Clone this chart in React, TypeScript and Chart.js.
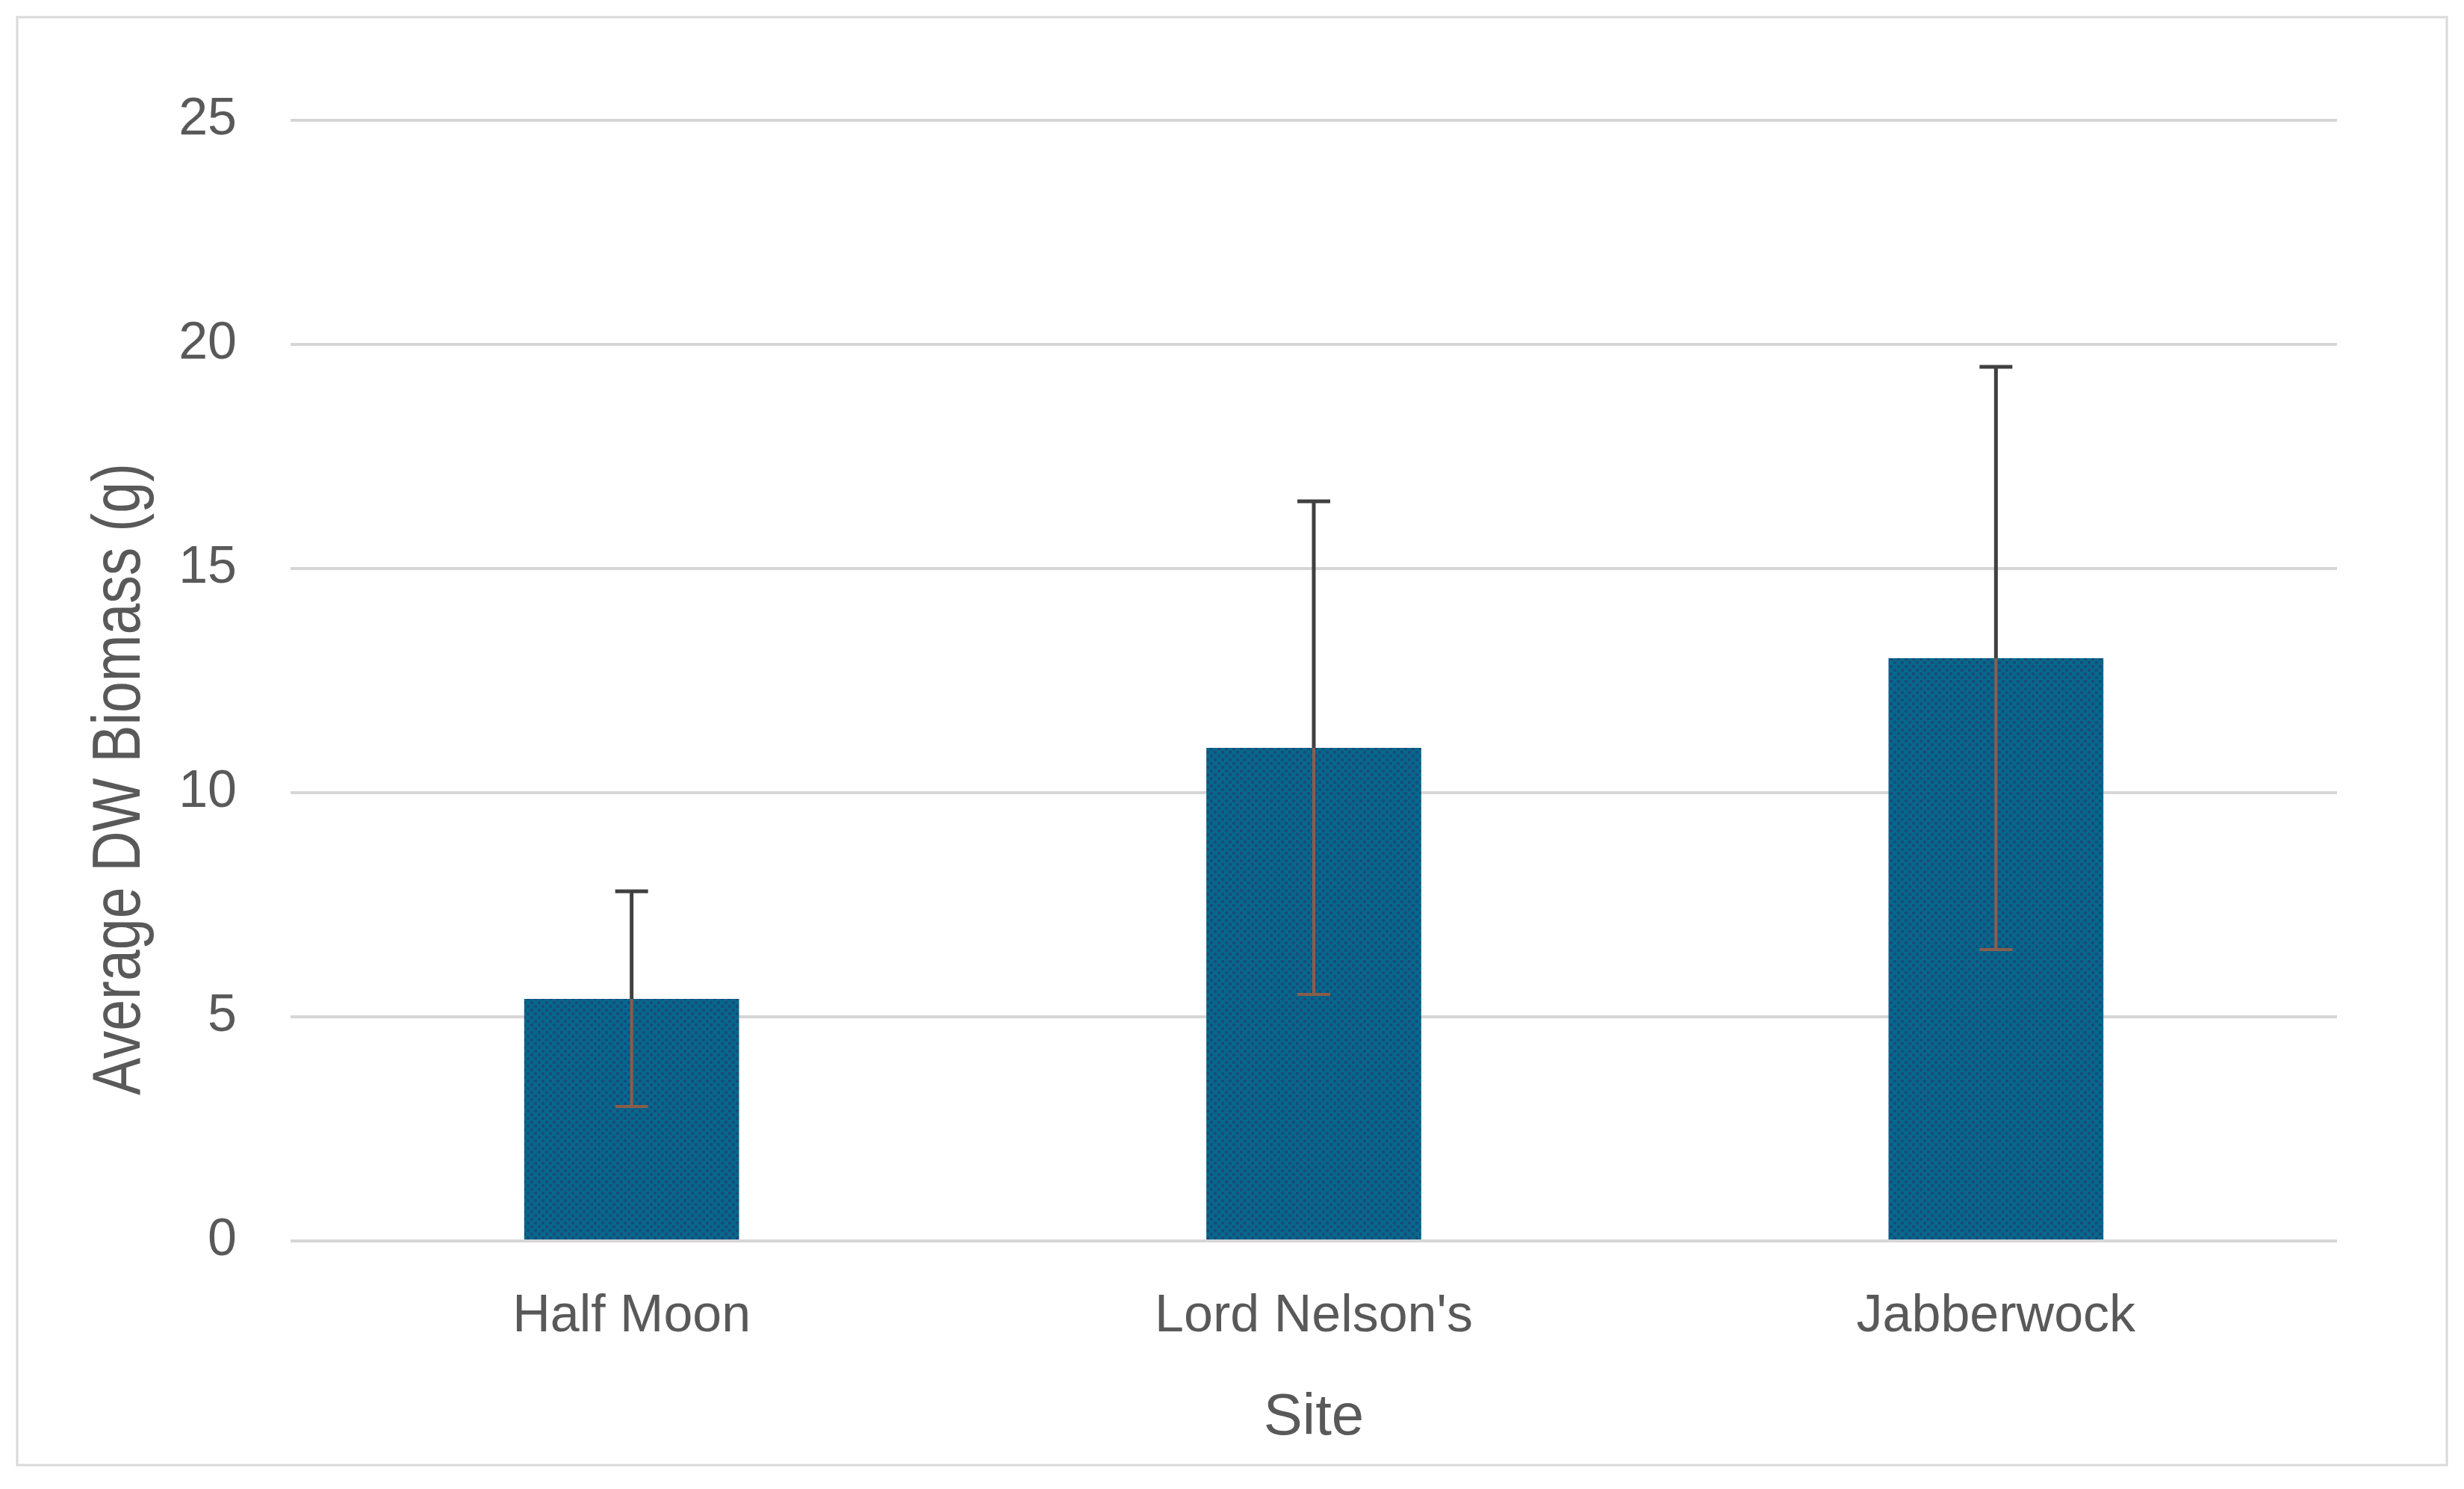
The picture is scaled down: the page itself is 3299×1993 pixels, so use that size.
import React, { useEffect, useRef } from "react";
import { Chart, registerables } from "chart.js";

Chart.register(...registerables);

// ---- data ----
const sites = ["Half Moon", "Lord Nelson's", "Jabberwock"];
const meanBiomass = [5.4, 11.0, 13.0];
const errorPlus = [2.4, 5.5, 6.5];
const errorMinus = [2.4, 5.5, 6.5];
const yTickValues = [0, 5, 10, 15, 20, 25];
const xAxisTitle = "Site";
const yAxisTitle = "Average DW Biomass (g)";

const W = 3299;
const H = 1993;
const TEXT = "#595959";
const FONT = "'Liberation Sans', Arial, sans-serif";

function makePattern(): CanvasPattern | string {
  const c = document.createElement("canvas");
  c.width = 10;
  c.height = 10;
  const g = c.getContext("2d");
  if (!g) return "#0d6085";
  g.fillStyle = "#06688a";
  g.fillRect(0, 0, 10, 10);
  g.fillStyle = "#184c7e";
  g.fillRect(0, 0, 4, 4);
  g.fillRect(5, 5, 4, 4);
  const p = g.createPattern(c, "repeat");
  return p || "#0d6085";
}

const framePlugin = {
  id: "frame",
  beforeDraw(chart: any) {
    const ctx = chart.ctx;
    ctx.save();
    ctx.fillStyle = "#ffffff";
    ctx.fillRect(0, 0, chart.width, chart.height);
    ctx.strokeStyle = "#d9d9d9";
    ctx.lineWidth = 3;
    ctx.strokeRect(23, 23, 3253, 1938);
    ctx.restore();
  },
};

const errorBarPlugin = {
  id: "errorBars",
  afterDatasetsDraw(chart: any) {
    const ctx = chart.ctx;
    const meta = chart.getDatasetMeta(0);
    const ys = chart.scales.y;
    ctx.save();
    meta.data.forEach((bar: any, i: number) => {
      const x = bar.x;
      const yTop = ys.getPixelForValue(meanBiomass[i] + errorPlus[i]);
      const yBot = ys.getPixelForValue(meanBiomass[i] - errorMinus[i]);
      const yBar = ys.getPixelForValue(meanBiomass[i]);
      const cap = 22;
      ctx.lineWidth = 5;
      // upper part (above bar)
      ctx.strokeStyle = "#404040";
      ctx.beginPath();
      ctx.moveTo(x, yTop);
      ctx.lineTo(x, yBar);
      ctx.moveTo(x - cap, yTop);
      ctx.lineTo(x + cap, yTop);
      ctx.stroke();
      // lower part (over bar)
      ctx.strokeStyle = "#8a5e4a";
      ctx.lineWidth = 4;
      ctx.beginPath();
      ctx.moveTo(x, yBar);
      ctx.lineTo(x, yBot);
      ctx.moveTo(x - cap, yBot);
      ctx.lineTo(x + cap, yBot);
      ctx.stroke();
    });
    ctx.restore();
  },
};

const titlesPlugin = {
  id: "axisTitles",
  afterDraw(chart: any) {
    const ctx = chart.ctx;
    const area = chart.chartArea;
    ctx.save();
    ctx.fillStyle = TEXT;
    // x title
    ctx.font = `78px ${FONT}`;
    ctx.textAlign = "center";
    ctx.textBaseline = "alphabetic";
    ctx.fillText(xAxisTitle, (area.left + area.right) / 2, 1920);
    // y title (narrow)
    ctx.translate(187, 1043);
    ctx.rotate(-Math.PI / 2);
    ctx.font = `90px ${FONT}`;
    const w = ctx.measureText(yAxisTitle).width;
    const sx = 846 / w;
    ctx.scale(sx, 1);
    ctx.textAlign = "center";
    ctx.textBaseline = "alphabetic";
    ctx.fillText(yAxisTitle, 0, 0);
    ctx.restore();
  },
};

export default function App() {
  const ref = useRef<HTMLCanvasElement | null>(null);

  useEffect(() => {
    if (!ref.current) return;
    const chart = new Chart(ref.current, {
      type: "bar",
      data: {
        labels: sites,
        datasets: [
          {
            label: "Average DW Biomass (g)",
            data: meanBiomass,
            backgroundColor: makePattern() as any,
            borderWidth: 0,
            barPercentage: 0.315,
            categoryPercentage: 1,
          },
        ],
      },
      options: {
        responsive: false,
        animation: false,
        devicePixelRatio: 1,
        layout: { padding: { left: 0, right: 170, top: 161, bottom: 0 } },
        plugins: {
          legend: { display: false },
          tooltip: { enabled: false },
          title: { display: false },
        },
        scales: {
          x: {
            grid: { display: false, drawTicks: false },
            border: { display: false },
            ticks: {
              color: TEXT,
              font: { family: FONT, size: 70 },
              padding: 60,
              maxRotation: 0,
            },
            afterFit(scale: any) {
              scale.height = 332;
            },
          },
          y: {
            min: 0,
            max: 25,
            afterBuildTicks(scale: any) {
              scale.ticks = yTickValues.map((v) => ({ value: v }));
            },
            grid: {
              color: "#d6d6d6",
              lineWidth: 4,
              drawTicks: false,
            },
            border: { display: false },
            ticks: {
              color: TEXT,
              font: { family: FONT, size: 70 },
              padding: 72,
            },
            afterFit(scale: any) {
              scale.width = 389;
            },
          },
        },
      },
      plugins: [framePlugin, errorBarPlugin, titlesPlugin],
    });
    return () => chart.destroy();
  }, []);

  return (
    <div
      style={{
        position: "fixed",
        left: 0,
        top: 0,
        width: W,
        height: H,
        background: "#ffffff",
      }}
    >
      <canvas ref={ref} width={W} height={H} style={{ display: "block", width: W, height: H }} />
    </div>
  );
}
